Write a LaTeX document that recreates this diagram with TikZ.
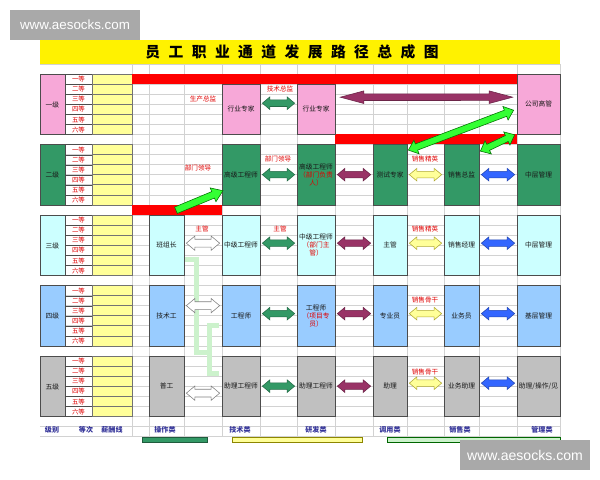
\documentclass[tikz,border=0pt]{standalone}
\usepackage{fontspec}
\newfontfamily\cjk{Noto Sans CJK SC}
\newfontfamily\wmfont{Liberation Sans}
\usetikzlibrary{calc,shapes.arrows}

\definecolor{cpink}{HTML}{F7A8D8}
\definecolor{cgreen}{HTML}{339966}
\definecolor{ccyan}{HTML}{CCFFFF}
\definecolor{cblue}{HTML}{99CCFF}
\definecolor{cgray}{HTML}{C0C0C0}
\definecolor{cyellow}{HTML}{FFFF99}
\definecolor{cmaroon}{HTML}{993366}
\definecolor{cbluearr}{HTML}{3366FF}
\definecolor{clime}{HTML}{33FF33}
\definecolor{cgrid}{HTML}{D2D2D2}
\definecolor{cfoot}{HTML}{333399}
\definecolor{cpalegreen}{HTML}{CCF2CC}
\definecolor{cwm}{HTML}{A9A9A9}
\definecolor{cred}{HTML}{E00000}

\def\px{0.025cm}

\tikzset{
  box/.style={draw=black!70, line width=0.5pt, align=center, inner sep=0pt, text=black!90, font=\cjk\fontsize{4.8}{5.8}\selectfont},
  gradecell/.style={draw=black!70, line width=0.4pt, minimum width=27*\px, minimum height=10.07*\px, inner sep=0pt, text=cred, font=\cjk\fontsize{4.6}{5}\selectfont},
  redlabel/.style={text=cred, inner sep=0pt, font=\cjk\fontsize{4.7}{5}\selectfont},
  footlabel/.style={text=cfoot, inner sep=0pt, font=\cjk\bfseries\fontsize{5}{6}\selectfont},
  gridline/.style={draw=cgrid, line width=0.4pt},
  colA/.style={minimum width=35*\px},
  colB/.style={minimum width=38*\px},
  colD/.style={minimum width=34*\px},
  colF/.style={minimum width=43*\px},
  lvh/.style={minimum height=60.42*\px},
  dblarr/.style={double arrow, draw, line width=0.4pt, inner xsep=0pt, inner ysep=0.075cm, minimum width=0pt, double arrow head extend=0.075cm, double arrow tip angle=80},
  sglarr/.style={single arrow, draw, line width=0.4pt, inner xsep=0pt, inner ysep=0.08cm, minimum width=0pt, single arrow head extend=0.1cm, single arrow tip angle=70},
  greenarr/.style={fill=cgreen, draw=cgreen!70!black},
  maroonarr/.style={fill=cmaroon, draw=cmaroon!70!black},
  grayarr/.style={fill=white, draw=gray, inner ysep=0.09cm, double arrow head extend=0.08cm},
  yellowarr/.style={fill=cyellow, draw=olive!70},
  bluearr/.style={fill=cbluearr, draw=cbluearr!70!black},
  limearr/.style={fill=clime, draw=green!45!black},
}

% block arrow in the gap between two boxes
\newcommand\linkarrow[4][]{%
  \path let \p1=($(#2.east)+(2,#4)$), \p2=($(#3.west)+(-2,#4)$), \n1={veclen(\x2-\x1,\y2-\y1)} in
    ($(\p1)!0.5!(\p2)$) node[dblarr,#1,minimum height=\n1] {};}
% block arrow between two coordinates, any direction
\newcommand\slantarrow[3][dblarr]{%
  \path let \p1=(#2), \p2=(#3), \n1={veclen(\x2-\x1,\y2-\y1)}, \n2={atan2(\y2-\y1,\x2-\x1)} in
    ($(\p1)!0.5!(\p2)$) node[#1,rotate=\n2,minimum height=\n1] {};}

\begin{document}
\begin{tikzpicture}[x=0.025cm, y=-0.025cm]
%%%%% START %%%%%
\useasboundingbox (0,0) rectangle (600,480);
\fill[white] (0,0) rectangle (600,480);

% title bar
\fill[yellow] (40,40) rectangle (560,63.9);
\node[font=\cjk\bfseries\fontsize{10.5}{12}\selectfont] (title) at (292,52)
  {员\hspace{6pt}工\hspace{6pt}职\hspace{6pt}业\hspace{6pt}通\hspace{6pt}道\hspace{6pt}发\hspace{6pt}展\hspace{6pt}路\hspace{6pt}径\hspace{6pt}总\hspace{6pt}成\hspace{6pt}图};

% sheet grid
\foreach \k in {0,...,37}
  \draw[gridline] (40,{63.9+\k*10.07}) -- (560,{63.9+\k*10.07});
\foreach \xx in {132,149,184,222,260,297,335,373,407,444,479,517,560}
  \draw[gridline] (\xx,63.9) -- (\xx,436.5);

% levels, grades and pay column
\foreach \lv/\clr/\nm in {0/cpink/一级,1/cgreen/二级,2/ccyan/三级,3/cblue/四级,4/cgray/五级}{
  \pgfmathsetmacro\ytop{63.9+(1+7*\lv)*10.07}
  \node[box, fill=\clr, minimum width=25*\px, lvh, anchor=north] (lv\lv) at (52.5,\ytop) {\nm};
  \foreach \g/\gn in {0/一等,1/二等,2/三等,3/四等,4/五等,5/六等}{
    \node[gradecell, anchor=north] (gr\lv\g) at (78.5,{\ytop+\g*10.07}) {\gn};
    \draw[fill=cyellow, draw=black!55, line width=0.4pt] (92,{\ytop+\g*10.07}) rectangle (132,{\ytop+(\g+1)*10.07});
  }
}

% red bars
\fill[red] (132,73.97) rectangle (517,84.04);
\fill[red] (335,134.39) rectangle (517,144.46);
\fill[red] (132,204.88) rectangle (222,214.95);

% light green elbow
\draw[cpalegreen, line width=0.125cm] (185,259) -- (196.5,259) -- (196.5,352) -- (209,352);
\draw[cpalegreen, line width=0.125cm] (219,325) -- (209,325) -- (209,373) -- (219,373);

% level 1
\node[box, fill=cpink, colB, minimum height=50.35*\px] (hyA) at (241,109.2) {行业专家};
\node[box, fill=cpink, colB, minimum height=50.35*\px] (hyB) at (316,109.2) {行业专家};
\node[box, fill=cpink, colF, lvh] (gsgg) at (538.5,104.18) {公司高管};

% level 2
\node[box, fill=cgreen, colB, lvh] (gjA) at (241,174.67) {高级工程师};
\node[box, fill=cgreen, colB, lvh] (gjB) at (316,174.67) {高级工程师\\{\color{cred}（部门负责}\\{\color{cred}人）}};
\node[box, fill=cgreen, colD, lvh] (cszj) at (390,174.67) {测试专家};
\node[box, fill=cgreen, colA, lvh] (xszj) at (461.5,174.67) {销售总监};
\node[box, fill=cgreen, colF, lvh] (zcgl2) at (538.5,174.67) {中层管理};

% level 3
\node[box, fill=ccyan, colA, lvh] (bzz) at (166.5,245.16) {班组长};
\node[box, fill=ccyan, colB, lvh] (zjA) at (241,245.16) {中级工程师};
\node[box, fill=ccyan, colB, lvh] (zjB) at (316,245.16) {中级工程师\\{\color{cred}（部门主}\\{\color{cred}管）}};
\node[box, fill=ccyan, colD, lvh] (zg3) at (390,245.16) {主管};
\node[box, fill=ccyan, colA, lvh] (xsjl) at (461.5,245.16) {销售经理};
\node[box, fill=ccyan, colF, lvh] (zcgl3) at (538.5,245.16) {中层管理};

% level 4
\node[box, fill=cblue, colA, lvh] (jsg) at (166.5,315.65) {技术工};
\node[box, fill=cblue, colB, lvh] (gcA) at (241,315.65) {工程师};
\node[box, fill=cblue, colB, lvh] (gcB) at (316,315.65) {工程师\\{\color{cred}（项目专}\\{\color{cred}员）}};
\node[box, fill=cblue, colD, lvh] (zyy) at (390,315.65) {专业员};
\node[box, fill=cblue, colA, lvh] (ywy) at (461.5,315.65) {业务员};
\node[box, fill=cblue, colF, lvh] (jcgl) at (538.5,315.65) {基层管理};

% level 5
\node[box, fill=cgray, colA, lvh] (pg) at (166.5,386.14) {普工};
\node[box, fill=cgray, colB, lvh] (zlA) at (241,386.14) {助理工程师};
\node[box, fill=cgray, colB, lvh] (zlB) at (316,386.14) {助理工程师};
\node[box, fill=cgray, colD, lvh] (zl) at (390,386.14) {助理};
\node[box, fill=cgray, colA, lvh] (ywzl) at (461.5,386.14) {业务助理};
\node[box, fill=cgray, colF, lvh] (zlcz) at (538.5,386.14) {助理/操作/见};

% red labels
\node[redlabel] (sczj) at (203,99) {生产总监};
\node[redlabel] (jszj) at (280,89) {技术总监};
\node[redlabel] (bmldA) at (198,168) {部门领导};
\node[redlabel] (bmldB) at (278,159) {部门领导};
\node[redlabel] (xsjyA) at (425,159) {销售精英};
\node[redlabel] (zgA) at (202,229) {主管};
\node[redlabel] (zgB) at (280,229) {主管};
\node[redlabel] (xsjyB) at (425,229) {销售精英};
\node[redlabel] (xsggA) at (425,300) {销售骨干};
\node[redlabel] (xsggB) at (425,372) {销售骨干};

% arrows between boxes
\linkarrow[greenarr]{hyA}{hyB}{-6}
\linkarrow[greenarr]{gjA}{gjB}{0}
\linkarrow[maroonarr]{gjB}{cszj}{0}
\linkarrow[yellowarr]{cszj}{xszj}{0}
\linkarrow[bluearr]{xszj}{zcgl2}{0}
\linkarrow[grayarr]{bzz}{zjA}{-2}
\linkarrow[greenarr]{zjA}{zjB}{-2}
\linkarrow[maroonarr]{zjB}{zg3}{-2}
\linkarrow[yellowarr]{zg3}{xsjl}{-2}
\linkarrow[bluearr]{xsjl}{zcgl3}{-2}
\linkarrow[grayarr]{jsg}{gcA}{-10}
\linkarrow[greenarr]{gcA}{gcB}{-2}
\linkarrow[maroonarr]{gcB}{zyy}{-2}
\linkarrow[yellowarr]{zyy}{ywy}{-2}
\linkarrow[bluearr]{ywy}{jcgl}{-2}
\linkarrow[grayarr]{pg}{zlA}{7}
\linkarrow[greenarr]{zlA}{zlB}{0}
\linkarrow[maroonarr]{zlB}{zl}{0}
\linkarrow[yellowarr]{zl}{ywzl}{-3}
\linkarrow[bluearr]{ywzl}{zlcz}{-3}

% long and slanted arrows
\coordinate (mr1) at ($(hyB.east)+(5,-12)$);
\coordinate (mr2) at ($(gsgg.west)+(-4,-7)$);
\slantarrow[dblarr,maroonarr,double arrow tip angle=30]{mr1}{mr2}
\coordinate (lm1) at ($(gjA.south west)+(-48,6)$);
\coordinate (lm2) at ($(gjA.west)+(-1,17)$);
\slantarrow[sglarr,limearr]{lm1}{lm2}
\coordinate (lm3) at ($(cszj.north east)+(1,6)$);
\coordinate (lm4) at ($(gsgg.west)+(-3,6)$);
\slantarrow[dblarr,limearr,double arrow head extend=0.1cm]{lm3}{lm4}
\coordinate (lm5) at ($(xszj.north east)+(1,7)$);
\coordinate (lm6) at ($(gsgg.south west)+(-2,0)$);
\slantarrow[dblarr,limearr,double arrow head extend=0.1cm]{lm5}{lm6}

% footer
\node[footlabel] (ftA) at (52,430) {级别};
\node[footlabel] (ftB) at (86,430) {等次};
\node[footlabel] (ftC) at (112,430) {薪酬线};
\node[footlabel] (ftD) at (165,430) {操作类};
\node[footlabel] (ftE) at (240,430) {技术类};
\node[footlabel] (ftF) at (316,430) {研发类};
\node[footlabel] (ftG) at (390,430) {调用类};
\node[footlabel] (ftH) at (460,430) {销售类};
\node[footlabel] (ftI) at (542,430) {管理类};
\draw[fill=cgreen, draw=cgreen!60!black] (142,437) rectangle (207,442);
\draw[fill=cyellow, draw=olive] (232,437) rectangle (362,442);
\draw[fill=cpalegreen, draw=green!40!black] (387,437) rectangle (560,442);

% watermarks
\node[fill=cwm, text=white, inner sep=0pt, minimum width=130*\px, minimum height=30*\px, font=\wmfont\fontsize{9.5}{10}\selectfont] (wmA) at (75,25) {www.aesocks.com};
\node[fill=cwm, text=white, inner sep=0pt, minimum width=130*\px, minimum height=30*\px, font=\wmfont\fontsize{10}{11}\selectfont] (wmB) at (525,455) {www.aesocks.com};
%%%%% END %%%%%
\end{tikzpicture}
\end{document}
